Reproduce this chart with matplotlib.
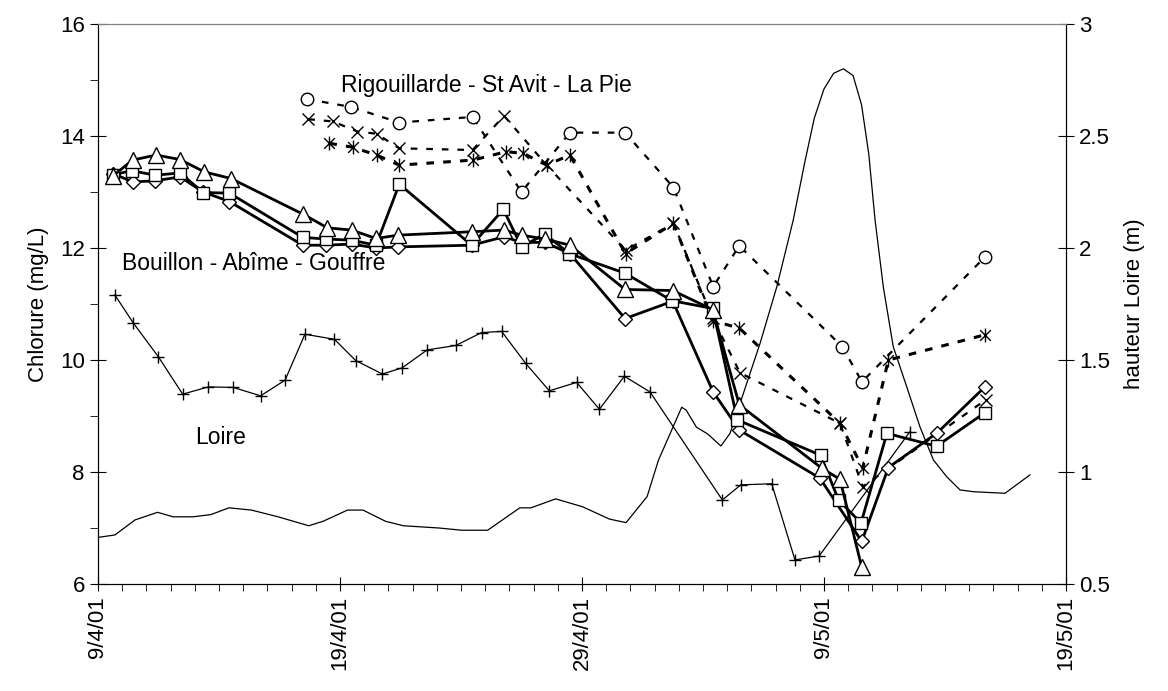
import numpy as np
import pandas as pd
import matplotlib
matplotlib.use('Agg')
import matplotlib.pyplot as plt
import matplotlib.dates as mdates
from matplotlib.path import Path

plt.rcParams['font.family'] = ['Liberation Sans', 'DejaVu Sans']

START = pd.Timestamp('2001-04-09')

# --- Bouillon - Abime - Gouffre (solid, thick) ---
tri_days = [0.62, 1.43, 2.40, 3.39, 4.39, 5.50, 8.49, 9.48, 10.48, 11.49, 12.41, 15.44, 16.78, 17.50,
            18.47, 19.50, 21.78, 23.75, 25.40, 26.50, 29.90, 30.66, 31.56]
tri_vals = [13.29, 13.57, 13.66, 13.58, 13.36, 13.24, 12.60, 12.36, 12.32, 12.17, 12.23, 12.29, 12.32, 12.23,
            12.16, 12.05, 11.26, 11.24, 10.90, 9.20, 8.07, 7.87, 6.30]

sq_days = [0.62, 1.40, 2.36, 3.39, 4.35, 5.43, 8.46, 9.42, 10.48, 11.49, 12.45, 15.44, 16.75, 17.50,
           18.47, 19.47, 21.78, 23.71, 25.40, 26.42, 29.86, 30.60, 31.53, 32.60, 34.65, 36.65]
sq_vals = [13.31, 13.38, 13.30, 13.34, 12.99, 12.98, 12.19, 12.16, 12.14, 12.05, 13.14, 12.05, 12.69, 12.02,
           12.25, 11.90, 11.55, 11.06, 10.92, 8.93, 8.30, 7.50, 7.09, 8.69, 8.46, 9.06]

dia_days = [0.62, 1.43, 2.36, 3.39, 4.35, 5.43, 8.46, 9.42, 10.48, 11.49, 12.41, 15.44, 16.78, 17.50,
            18.47, 19.50, 21.78, 23.75, 25.42, 26.50, 29.83, 31.56, 32.66, 34.68, 36.65]
dia_vals = [13.33, 13.18, 13.20, 13.27, 13.00, 12.83, 12.05, 12.05, 12.07, 12.00, 12.02, 12.05, 12.20, 12.10,
            12.10, 11.90, 10.74, 11.05, 9.43, 8.75, 7.89, 6.76, 8.08, 8.70, 9.52]

# --- Rigouillarde - St Avit - La Pie (dashed) ---
circ_days = [8.62, 10.44, 12.45, 15.48, 17.50, 19.50, 21.78, 23.78, 25.42, 26.50, 30.75, 31.57, 36.65]
circ_vals = [14.66, 14.52, 14.24, 14.34, 13.00, 14.06, 14.06, 13.08, 11.31, 12.04, 10.24, 9.61, 11.84]

x_days = [8.69, 9.70, 10.72, 11.51, 12.45, 15.48, 16.78, 18.54, 21.80, 23.78, 25.40, 26.53, 30.66, 31.60, 36.69]
x_vals = [14.30, 14.26, 14.08, 14.04, 13.78, 13.75, 14.36, 13.48, 11.96, 12.44, 10.75, 9.77, 8.87, 7.74, 9.29]

ast_days = [9.56, 10.52, 11.51, 12.45, 15.50, 16.86, 17.57, 18.54, 19.50, 21.80, 23.78, 25.40, 26.50,
            30.66, 31.60, 32.66, 36.65]
ast_vals = [13.87, 13.80, 13.66, 13.48, 13.57, 13.72, 13.69, 13.48, 13.66, 11.90, 12.44, 10.70, 10.57,
            8.87, 8.07, 10.00, 10.45]

# --- Loire chloride (thin line, + markers) ---
loire_days = [0.70, 1.46, 2.49, 3.50, 4.56, 5.59, 6.72, 7.73, 8.55, 9.77, 10.65, 11.75, 12.57, 13.60,
              14.79, 15.85, 16.68, 17.67, 18.65, 19.78, 20.72, 21.75, 22.81, 25.80, 26.56, 27.84, 28.80,
              29.80, 33.55]
loire_vals = [11.16, 10.66, 10.06, 9.39, 9.52, 9.51, 9.36, 9.64, 10.46, 10.37, 9.99, 9.75, 9.86, 10.18,
              10.26, 10.49, 10.51, 9.94, 9.45, 9.60, 9.12, 9.71, 9.43, 7.50, 7.77, 7.79, 6.43,
              6.50, 8.72]

# --- Loire height (right axis, m) ---
h_days = [0.00, 0.70, 1.53, 2.46, 3.10, 3.93, 4.67, 5.41, 6.34, 7.44, 8.71, 9.30, 10.31, 10.95, 11.88,
          12.62, 14.09, 15.03, 16.10, 17.43, 17.89, 18.91, 20.02, 21.13, 21.82, 22.69, 23.16, 24.12,
          24.30, 24.73, 25.19, 25.74, 26.12, 27.36, 28.05, 28.73, 29.20, 29.60, 30.00, 30.40, 30.80,
          31.20, 31.55, 31.85, 32.11, 32.45, 32.86, 33.42, 33.97, 34.52, 35.07, 35.62, 36.17, 37.48, 38.51]
h_vals = [0.708, 0.719, 0.786, 0.820, 0.800, 0.800, 0.810, 0.840, 0.830, 0.800, 0.760, 0.780, 0.830, 0.830,
          0.780, 0.760, 0.750, 0.740, 0.740, 0.840, 0.840, 0.880, 0.845, 0.790, 0.774, 0.890, 1.053,
          1.289, 1.277, 1.200, 1.170, 1.116, 1.173, 1.575, 1.827, 2.125, 2.380, 2.580, 2.710, 2.780, 2.800,
          2.770, 2.640, 2.420, 2.125, 1.827, 1.560, 1.380, 1.200, 1.054, 0.979, 0.920, 0.912, 0.905, 0.987]


def to_dates(days):
    return START + pd.to_timedelta(np.array(days), unit='D')


# asterisk marker like Excel's star: an x with a vertical bar
ast_marker = Path([(-1, -1), (1, 1), (-1, 1), (1, -1), (0, -1.3), (0, 1.3)],
                  [Path.MOVETO, Path.LINETO, Path.MOVETO, Path.LINETO, Path.MOVETO, Path.LINETO])

fig = plt.figure(figsize=(11.68, 6.91), dpi=100)
ax = fig.add_subplot(111)
fig.subplots_adjust(left=98 / 1168, right=1066 / 1168, bottom=(691 - 584) / 691, top=(691 - 24) / 691)
ax2 = ax.twinx()
ax.set_zorder(ax2.get_zorder() + 1)
ax.patch.set_visible(False)

ax2.plot(to_dates(h_days), h_vals, '-', color='k', lw=0.9)

ax.plot(to_dates(loire_days), loire_vals, '-', color='k', lw=0.9, marker='+', ms=8, mew=1)

dash = dict(color='k', mfc='white', mec='k', mew=1.0)
ax.plot(to_dates(circ_days), circ_vals, linestyle=(0, (3, 4)), lw=1.6, marker='o', ms=9, **dash)
ax.plot(to_dates(x_days), x_vals, linestyle=(0, (3, 4)), lw=1.6, marker='x', ms=8, **dash)
ax.plot(to_dates(ast_days), ast_vals, linestyle=(0, (2.5, 3)), lw=2.2, marker=ast_marker, ms=10,
        mfc='none', mec='k', mew=1.0, color='k')

solid = dict(color='k', lw=2.0, mfc='white', mec='k', mew=1.0)
ax.plot(to_dates(dia_days), dia_vals, marker='D', ms=7, **solid)
ax.plot(to_dates(sq_days), sq_vals, marker='s', ms=9, **solid)
ax.plot(to_dates(tri_days), tri_vals, marker='^', ms=12, **solid)

ax.set_xlim(START, START + pd.Timedelta(days=40))
ax.set_ylim(6, 16)
ax2.set_ylim(0.5, 3)

ax.xaxis.set_major_locator(mdates.DayLocator(bymonthday=[9, 19, 29]))
ax.xaxis.set_minor_locator(mdates.DayLocator())
ax.xaxis.set_major_formatter(plt.FuncFormatter(
    lambda v, pos: (lambda d: f"{d.day}/{d.month}/{d.strftime('%y')}")(mdates.num2date(v))))
ax.tick_params(axis='x', which='major', labelrotation=90, direction='inout', length=10, labelsize=16)
ax.tick_params(axis='x', which='minor', direction='out', length=5)

ax.set_yticks(np.arange(6, 17, 2))
ax.set_yticks(np.arange(6, 17, 1), minor=True)
ax.tick_params(axis='y', which='major', direction='inout', length=12, labelsize=16)
ax.tick_params(axis='y', which='minor', direction='out', length=6)
ax2.set_yticks(np.arange(0.5, 3.01, 0.5))
ax2.set_yticklabels(['0.5', '1', '1.5', '2', '2.5', '3'])
ax2.tick_params(axis='y', direction='inout', length=12, labelsize=16)

ax.set_ylabel('Chlorure (mg/L)', fontsize=16, labelpad=8)
ax2.set_ylabel('hauteur Loire (m)', fontsize=16, labelpad=10)

for a in (ax, ax2):
    a.spines['top'].set_color('#808080')

ax.text(0.251, 0.891, 'Rigouillarde - St Avit - La Pie', transform=ax.transAxes, fontsize=16.5, va='center')
ax.text(0.0245, 0.573, 'Bouillon - Abîme - Gouffre', transform=ax.transAxes, fontsize=16.5, va='center')
ax.text(0.1006, 0.2625, 'Loire', transform=ax.transAxes, fontsize=16.5, va='center')

plt.savefig('out.png', dpi=100)
